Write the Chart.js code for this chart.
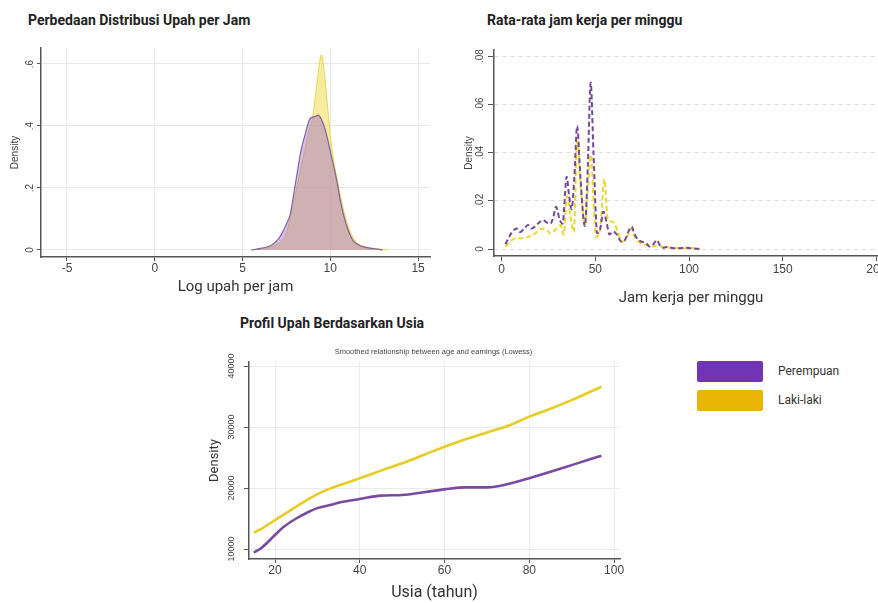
<!DOCTYPE html>
<html><head><meta charset="utf-8">
<script src="https://cdn.jsdelivr.net/npm/chart.js@4.4.0/dist/chart.umd.min.js"></script>
<style>
html,body{margin:0;padding:0;width:878px;height:603px;overflow:hidden;background:#fff;position:relative;}
.t{position:absolute;font-family:Roboto,'Liberation Sans',sans-serif;font-weight:bold;font-size:14px;color:#222;white-space:nowrap;line-height:14px}
canvas{position:absolute}
.lg{position:absolute;width:66px;height:21px;border-radius:2px}
.lt{position:absolute;font-family:Roboto,'Liberation Sans',sans-serif;font-size:12px;color:#333;line-height:12px;white-space:nowrap}
</style></head><body>
<div class="t" style="left:28px;top:13px">Perbedaan Distribusi Upah per Jam</div>
<div class="t" style="left:487px;top:13px">Rata-rata jam kerja per minggu</div>
<div class="t" style="left:240px;top:316px">Profil Upah Berdasarkan Usia</div>
<canvas id="c1" width="440" height="300" style="left:0;top:0"></canvas>
<canvas id="c2" width="460" height="310" style="left:440px;top:0"></canvas>
<canvas id="c3" width="450" height="273" style="left:180px;top:330px"></canvas>
<div class="lg" style="left:697px;top:361px;background:#7134b4"></div>
<div class="lt" style="left:778px;top:365px">Perempuan</div>
<div class="lg" style="left:697px;top:390px;background:#e8b504"></div>
<div class="lt" style="left:778px;top:394px">Laki-laki</div>
<script>
// ---- Chart 1: log hourly wage density ----
const wageLogX_female = [5.5,6.0,6.5,6.8,7.1,7.35,7.55,7.73,7.92,8.11,8.3,8.58,8.86,9.1,9.32,9.5,9.7,9.9,10.05,10.2,10.4,10.57,10.75,10.95,11.3,11.6,11.9,12.5,13.0];
const wageDensity_female = [0,0.005,0.012,0.022,0.04,0.065,0.09,0.118,0.183,0.247,0.312,0.376,0.425,0.43,0.435,0.42,0.39,0.345,0.305,0.27,0.215,0.16,0.115,0.075,0.03,0.017,0.01,0.004,0];
const wageLogX_male = [5.5,6.0,6.5,7.0,7.5,7.9,8.2,8.5,8.8,9.0,9.2,9.35,9.49,9.6,9.72,9.85,10.0,10.2,10.4,10.6,10.8,11.0,11.3,11.6,12.0,12.5,13.0,13.3];
const wageDensity_male = [0,0.003,0.008,0.02,0.055,0.15,0.23,0.31,0.39,0.43,0.52,0.59,0.63,0.6,0.54,0.46,0.37,0.285,0.225,0.17,0.12,0.08,0.04,0.02,0.01,0.005,0.002,0];
const wageXTicks = [-5,0,5,10,15];
const wageYTicks = [0,0.2,0.4,0.6];

// ---- Chart 2: weekly hours density ----
const hoursX_female = [2,4,6,8,10,12,14,16,18,20,22,24,26,27.5,29,31,32.5,34.7,36,37.3,38.8,40.3,42,44.4,46,47.5,49,51,52.5,54.3,56,57.5,59.5,61.5,64,66,67.5,69.3,71,73,75,77,79,81,82.7,84.5,86,88,90.5,93,96,99,102,106];
const hoursDensity_female = [0.002,0.005,0.0075,0.0085,0.007,0.0085,0.010,0.0085,0.0095,0.011,0.012,0.011,0.0105,0.013,0.0175,0.012,0.0105,0.030,0.022,0.0165,0.03,0.051,0.030,0.0095,0.035,0.069,0.04,0.0065,0.008,0.0155,0.011,0.006,0.0072,0.006,0.003,0.004,0.007,0.0093,0.006,0.0037,0.003,0.0025,0.001,0.002,0.0037,0.0015,0.0005,0.0008,0.0005,0.0003,0.0004,0.0005,0.0002,0];
const hoursX_male = [2,4,6,8,10,12,14,16,18,20,22,24,26,28,30,31.5,33,35,37,38.5,40.3,42.5,44.5,46,47.7,49,50.5,52.5,54.8,56.5,58,60,62,64.5,67,69.3,71,73,75.5,78,80,82.7,85,88,92,96,100,104,106];
const hoursDensity_male = [0.001,0.0025,0.004,0.0045,0.0045,0.0045,0.005,0.0055,0.0065,0.008,0.0085,0.008,0.0065,0.0075,0.009,0.010,0.006,0.022,0.012,0.007,0.045,0.022,0.010,0.025,0.039,0.020,0.005,0.008,0.029,0.013,0.0115,0.011,0.007,0.003,0.005,0.0085,0.005,0.003,0.002,0.0015,0.001,0.0015,0.001,0.0005,0.0005,0.0003,0.0004,0.0002,0];
const hoursXTicks = [0,50,100,150,200];
const hoursYTicks = [0,0.02,0.04,0.06,0.08];

// ---- Chart 3: age-earnings profile (lowess) ----
const ageYears = [15,17,20,22,25,28,30,33,35,40,45,50,55,60,65,70,75,80,85,90,97];
const earnings_female = [9400,10300,12300,13600,15000,16100,16700,17200,17600,18200,18750,18850,19300,19780,20100,20100,20650,21600,22650,23750,25300];
const earnings_male = [12650,13400,14750,15600,16950,18200,19000,19900,20400,21600,22850,24050,25400,26770,28000,29100,30200,31700,33000,34400,36600];
const ageXTicks = [20,40,60,80,100];
const earnYTicks = [10000,20000,30000,40000];

const seriesNames = ['Perempuan','Laki-laki'];

const stataFmt = v => v === 0 ? '0' : String(v).replace(/^0\./,'.').replace(/^-0\./,'-.');
const setTicks = arr => (s => { s.ticks = arr.map(v => ({value:v})); });
const pts = (xs, ys) => xs.map((x,i) => ({x:x, y:ys[i]}));
const TICKF = 'Liberation Sans';
const TITLEF = 'Roboto';

Chart.defaults.font.family = TICKF;

const areaSubtitle = {
  id:'areaSubtitle',
  afterDraw(chart, args, opts){
    if(!opts || !opts.text) return;
    const {ctx, chartArea} = chart;
    ctx.save();
    ctx.font = (opts.size||8)+'px "'+TICKF+'"';
    ctx.fillStyle = opts.color||'#444';
    ctx.textAlign = 'center';
    ctx.textBaseline = 'middle';
    ctx.fillText(opts.text, (chartArea.left+chartArea.right)/2 + (opts.dx||0), chartArea.top - (opts.dy||10));
    ctx.restore();
  }
};

// Chart 1
new Chart(document.getElementById('c1'), {
  type:'line',
  data:{datasets:[
    {label:seriesNames[0], data:pts(wageLogX_female, wageDensity_female), fill:'origin',
     backgroundColor:'rgba(150,90,210,0.4)', borderColor:'rgba(110,80,150,0.85)', borderWidth:1.2,
     pointRadius:0, cubicInterpolationMode:'monotone', order:0},
    {label:seriesNames[1], data:pts(wageLogX_male, wageDensity_male), fill:'origin',
     backgroundColor:'rgba(240,222,100,0.62)', borderColor:'rgba(236,214,80,1)', borderWidth:1,
     pointRadius:0, cubicInterpolationMode:'monotone', order:1}
  ]},
  options:{
    responsive:false, animation:false,
    layout:{padding:{top:48,right:10,left:0,bottom:0}},
    plugins:{legend:{display:false}, tooltip:{enabled:false}},
    scales:{
      x:{type:'linear', min:-6.48, max:15.68, afterBuildTicks:setTicks(wageXTicks), afterFit:s=>{s.height=43;},
         grid:{color:'#e8e8e8', tickColor:'#555', tickLength:4},
         border:{color:'#555', width:1.5},
         ticks:{font:{size:12}, color:'#444', padding:0, callback:stataFmt},
         title:{display:true, text:'Log upah per jam', font:{size:15, family:TITLEF}, color:'#333', padding:{top:0,bottom:4}}},
      y:{type:'linear', min:-0.0226, max:0.6516, afterBuildTicks:setTicks(wageYTicks), afterFit:s=>{s.width=41;},
         grid:{color:'#e8e8e8', tickColor:'#555', tickLength:4},
         border:{color:'#555', width:1.5},
         ticks:{font:{size:10}, color:'#444', padding:3, minRotation:90, maxRotation:90, crossAlign:'center', callback:stataFmt},
         title:{display:true, text:'Density', font:{size:10, family:TICKF}, color:'#444', padding:{top:9,bottom:0}}}
    }
  }
});

// Chart 2
new Chart(document.getElementById('c2'), {
  type:'line',
  data:{datasets:[
    {label:seriesNames[0], data:pts(hoursX_female, hoursDensity_female), fill:false,
     borderColor:'#74489c', borderWidth:2, borderDash:[5,3], pointRadius:0, cubicInterpolationMode:'monotone', order:0},
    {label:seriesNames[1], data:pts(hoursX_male, hoursDensity_male), fill:false,
     borderColor:'#f0d626', borderWidth:2, borderDash:[5,3], pointRadius:0, cubicInterpolationMode:'monotone', order:1}
  ]},
  options:{
    responsive:false, animation:false,
    layout:{padding:{top:50,right:12,left:0,bottom:0}},
    plugins:{legend:{display:false}, tooltip:{enabled:false}},
    scales:{
      x:{type:'linear', min:-4.1, max:206.2, afterBuildTicks:setTicks(hoursXTicks), afterFit:s=>{s.height=54;},
         grid:{drawOnChartArea:false, tickColor:'#555', tickLength:5},
         border:{color:'#555', width:1.5},
         ticks:{font:{size:12}, color:'#444', padding:1, callback:stataFmt},
         title:{display:true, text:'Jam kerja per minggu', font:{size:15, family:TITLEF}, color:'#333', padding:{top:0,bottom:3}}},
      y:{type:'linear', min:-0.0029, max:0.0825, afterBuildTicks:setTicks(hoursYTicks), afterFit:s=>{s.width=54;},
         grid:{color:'#dcdcdc', tickColor:'#555', tickLength:6},
         border:{color:'#555', width:1.5, dash:[4,4]},
         ticks:{font:{size:10}, color:'#444', padding:1, minRotation:90, maxRotation:90, crossAlign:'center', callback:stataFmt},
         title:{display:true, text:'Density', font:{size:10, family:TICKF}, color:'#444', padding:{top:23,bottom:0}}}
    }
  }
});

// Chart 3
new Chart(document.getElementById('c3'), {
  type:'line',
  plugins:[areaSubtitle],
  data:{datasets:[
    {label:seriesNames[0], data:pts(ageYears, earnings_female), fill:false,
     borderColor:'#7a4aa3', borderWidth:2.6, pointRadius:0, cubicInterpolationMode:'monotone', order:0},
    {label:seriesNames[1], data:pts(ageYears, earnings_male), fill:false,
     borderColor:'#e9cb26', borderWidth:2.6, pointRadius:0, cubicInterpolationMode:'monotone', order:1}
  ]},
  options:{
    responsive:false, animation:false,
    layout:{padding:{top:32,right:10,left:0,bottom:0}},
    plugins:{legend:{display:false}, tooltip:{enabled:false},
      areaSubtitle:{text:'Smoothed relationship between age and earnings (Lowess)', size:7.5, color:'#444', dy:10, dx:-1}},
    scales:{
      x:{type:'linear', min:13.86, max:101.4, afterBuildTicks:setTicks(ageXTicks), afterFit:s=>{s.height=44;},
         grid:{color:'#ebebeb', tickColor:'#555', tickLength:4},
         border:{color:'#555', width:1.5},
         ticks:{font:{size:12}, color:'#444', padding:0},
         title:{display:true, text:'Usia (tahun)', font:{size:16, family:TITLEF}, color:'#333', padding:{top:0,bottom:0}}},
      y:{type:'linear', min:8361, max:40656, afterBuildTicks:setTicks(earnYTicks), afterFit:s=>{s.width=69;},
         grid:{color:'#ebebeb', tickColor:'#555', tickLength:5},
         border:{color:'#555', width:1.5},
         ticks:{font:{size:9}, color:'#444', padding:0, minRotation:90, maxRotation:90, crossAlign:'center', callback:v=>String(v)},
         title:{display:true, text:'Density', font:{size:13, family:TITLEF}, color:'#333', padding:{top:27,bottom:0}}}
    }
  }
});
</script>
</body></html>
